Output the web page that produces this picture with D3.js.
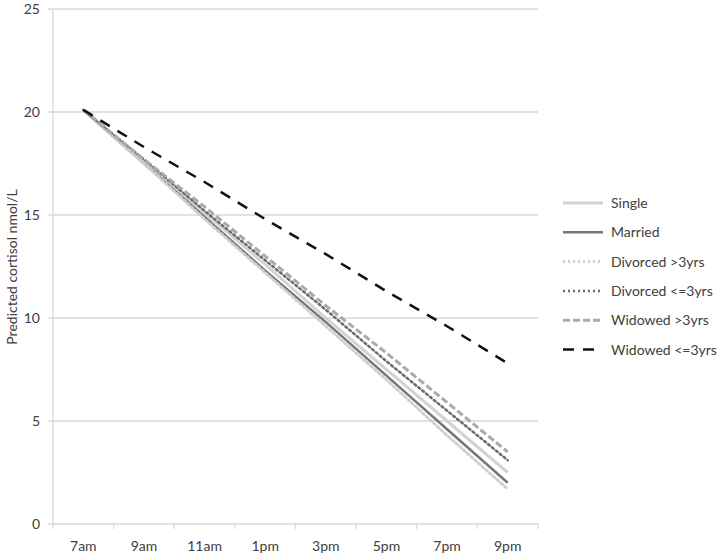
<!DOCTYPE html>
<html>
<head>
<meta charset="utf-8">
<script src="https://cdn.jsdelivr.net/npm/d3@7/dist/d3.min.js"></script>
<style>
  body { margin: 0; background: #fff; }
  text { font-family: Lato, "Liberation Sans", sans-serif; fill: #404040; }
</style>
</head>
<body>
<svg id="chart" width="722" height="554"></svg>
<script>
// categories (time of day)
var times = ["7am", "9am", "11am", "1pm", "3pm", "5pm", "7pm", "9pm"];
var yTicks = [0, 5, 10, 15, 20, 25];

// predicted cortisol per group
var single      = [20.1, 17.6, 15.1, 12.6, 10.0, 7.5, 5.0, 2.5];
var married     = [20.1, 17.5, 14.9, 12.3, 9.8, 7.2, 4.6, 2.0];
var divorcedOld = [20.1, 17.5, 14.8, 12.2, 9.6, 7.0, 4.3, 1.7];
var divorcedNew = [20.1, 17.7, 15.2, 12.8, 10.4, 7.9, 5.5, 3.1];
var widowedOld  = [20.1, 17.7, 15.4, 13.0, 10.6, 8.3, 5.9, 3.5];
var widowedNew  = [20.1, 18.3, 16.6, 14.8, 13.1, 11.3, 9.6, 7.8];

var series = [
  { name: "Single",           values: single,      color: "#d3d3d3", width: 3,   dash: null },
  { name: "Married",          values: married,     color: "#777777", width: 2.5, dash: null },
  { name: "Divorced >3yrs",   values: divorcedOld, color: "#d0d0d0", width: 3,   dash: "2,3" },
  { name: "Divorced <=3yrs",  values: divorcedNew, color: "#6a6a6a", width: 2.5, dash: "2,3" },
  { name: "Widowed >3yrs",    values: widowedOld,  color: "#aaaaaa", width: 3,   dash: "7,3" },
  { name: "Widowed <=3yrs",   values: widowedNew,  color: "#111111", width: 2.5, dash: "11,9" }
];

var svg = d3.select("#chart");
var plot = { left: 53, right: 538, top: 9, bottom: 524 };

var x = d3.scaleBand().domain(times).range([plot.left, plot.right]);
var y = d3.scaleLinear().domain([0, 25]).range([plot.bottom, plot.top]);

// horizontal gridlines
svg.append("g")
  .selectAll("line")
  .data(yTicks)
  .enter().append("line")
  .attr("x1", plot.left - 5).attr("x2", plot.right)
  .attr("y1", function(d) { return y(d); })
  .attr("y2", function(d) { return y(d); })
  .attr("stroke", "#d9d9d9").attr("stroke-width", 1.3);

// y axis line
svg.append("line")
  .attr("x1", plot.left).attr("x2", plot.left)
  .attr("y1", plot.top).attr("y2", plot.bottom)
  .attr("stroke", "#d9d9d9").attr("stroke-width", 1.3);

// y tick labels
svg.append("g")
  .selectAll("text")
  .data(yTicks)
  .enter().append("text")
  .attr("x", 40)
  .attr("y", function(d) { return y(d) + 5; })
  .attr("text-anchor", "end")
  .style("font-size", "14px")
  .text(function(d) { return d; });

// x axis tick marks at band edges
var edges = times.map(function(t) { return x(t); }).concat([plot.right]);
svg.append("g")
  .selectAll("line")
  .data(edges)
  .enter().append("line")
  .attr("x1", function(d) { return d; }).attr("x2", function(d) { return d; })
  .attr("y1", plot.bottom).attr("y2", plot.bottom + 5)
  .attr("stroke", "#d9d9d9").attr("stroke-width", 1.3);

// x labels
svg.append("g")
  .selectAll("text")
  .data(times)
  .enter().append("text")
  .attr("x", function(d) { return x(d) + x.bandwidth() / 2; })
  .attr("y", 551)
  .attr("text-anchor", "middle")
  .style("font-size", "14px")
  .text(function(d) { return d; });

// y axis title
svg.append("text")
  .attr("transform", "translate(17,267) rotate(-90)")
  .attr("text-anchor", "middle")
  .style("font-size", "14px")
  .text("Predicted cortisol nmol/L");

// lines
var line = d3.line()
  .x(function(d, i) { return x(times[i]) + x.bandwidth() / 2; })
  .y(function(d) { return y(d); });

svg.append("g")
  .selectAll("path")
  .data(series)
  .enter().append("path")
  .attr("d", function(s) { return line(s.values); })
  .attr("fill", "none")
  .attr("stroke", function(s) { return s.color; })
  .attr("stroke-width", function(s) { return s.width; })
  .attr("stroke-dasharray", function(s) { return s.dash; })
  .attr("stroke-linecap", function(s) { return s.dash === "2,3" ? "round" : "butt"; });

// legend
var legend = svg.append("g").selectAll("g")
  .data(series)
  .enter().append("g")
  .attr("transform", function(s, i) { return "translate(563," + (203 + i * 29.3) + ")"; });

legend.append("line")
  .attr("x1", 0).attr("x2", 40)
  .attr("stroke", function(s) { return s.color; })
  .attr("stroke-width", function(s) { return s.width; })
  .attr("stroke-dasharray", function(s) { return s.dash; });

legend.append("text")
  .attr("x", 48).attr("y", 5)
  .style("font-size", "14px")
  .text(function(s) { return s.name; });
</script>
</body>
</html>
